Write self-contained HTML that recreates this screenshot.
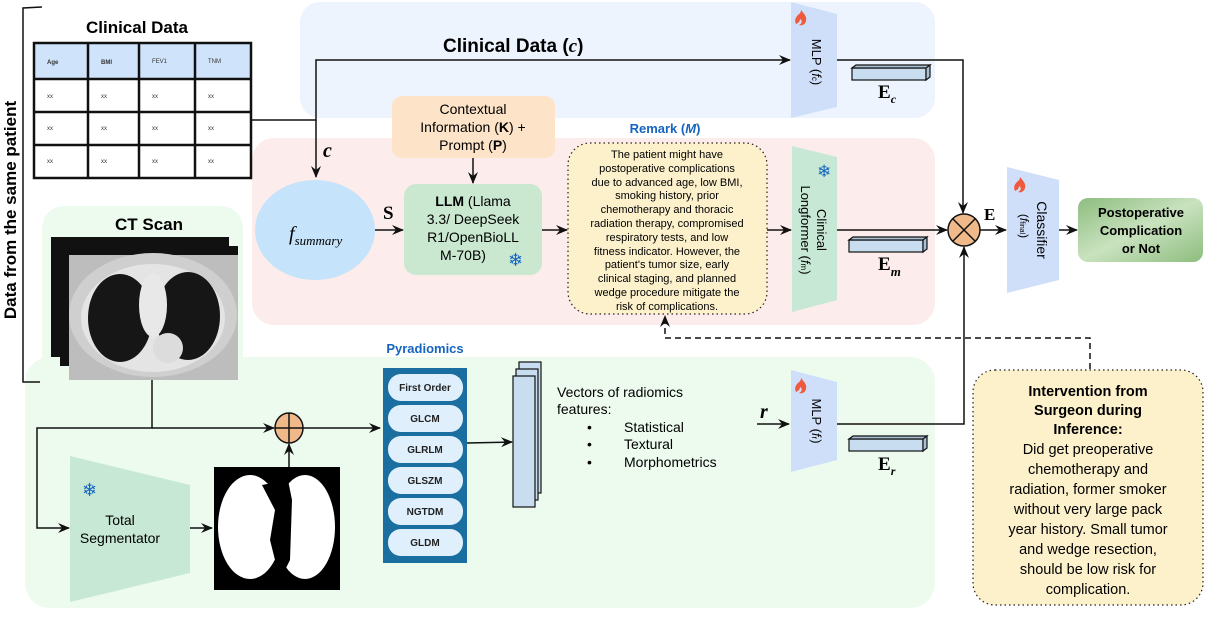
<!DOCTYPE html>
<html><head><meta charset="utf-8"><style>
body{margin:0;width:1207px;height:612px;overflow:hidden;background:#fff;font-family:"Liberation Sans",sans-serif}
</style></head><body>
<svg width="1207" height="612" viewBox="0 0 1207 612" xmlns="http://www.w3.org/2000/svg" font-family="Liberation Sans, sans-serif">
<defs>
<marker id="a" markerWidth="12" markerHeight="10" refX="11" refY="5" orient="auto" markerUnits="userSpaceOnUse"><path d="M0,0 L12,5 L0,10 L4,5 z" fill="#111"/></marker>
<linearGradient id="g" x1="0" y1="0" x2="1" y2="1"><stop offset="0" stop-color="#8dbd7e"/><stop offset="0.5" stop-color="#c9e2bf"/><stop offset="1" stop-color="#8dbd7e"/></linearGradient>
<g id="fire"><path d="M6,0 C9,4 12,6 11,11 C10,15 6,16 4,15 C8,13 7,10 5,9 C5,12 3,13 1,14 C-1,10 1,7 3,5 C4,4 6,3 6,0 z" fill="#ef5a3c"/></g>
<g id="bar"><rect x="0" y="3" width="74" height="12" fill="#c9ddf0" stroke="#111" stroke-width="1.2"/><path d="M0,3 L4,0 L78,0 L74,3 z M74,3 L78,0 L78,12 L74,15 z" fill="#a9c0d6" stroke="#111" stroke-width="1.2"/></g>
</defs>
<!-- regions -->
<rect x="300" y="2" width="635" height="116" rx="20" fill="#edf4fd"/>
<rect x="252" y="138" width="683" height="187" rx="22" fill="#fcecec"/>
<rect x="25" y="357" width="910" height="251" rx="25" fill="#edfbef"/>
<rect x="42" y="206" width="201" height="180" rx="22" fill="#edfbef"/>
<!-- bracket -->
<path d="M42,7 L23,8 L23,382 L40,382" fill="none" stroke="#111" stroke-width="1.5"/>
<text transform="translate(16,210) rotate(-90)" text-anchor="middle" font-size="17" font-weight="bold">Data from the same patient</text>
<!-- clinical table -->
<text x="137" y="33" text-anchor="middle" font-size="17" font-weight="bold">Clinical Data</text>
<rect x="34" y="43" width="217" height="36" fill="#cfe4fb"/>
<g stroke="#111" stroke-width="2.5" fill="none">
<rect x="34" y="43" width="217" height="135"/>
<line x1="34" y1="79" x2="251" y2="79"/><line x1="34" y1="112" x2="251" y2="112"/><line x1="34" y1="145" x2="251" y2="145"/>
<line x1="88" y1="43" x2="88" y2="178"/><line x1="139" y1="43" x2="139" y2="178"/><line x1="195" y1="43" x2="195" y2="178"/>
</g>
<g font-size="6" fill="#333"><text x="47" y="64" font-weight="bold">Age</text><text x="101" y="64" font-weight="bold">BMI</text><text x="152" y="63">FEV1</text><text x="208" y="63">TNM</text>
<text x="47" y="98">xx</text><text x="101" y="98">xx</text><text x="152" y="98">xx</text><text x="208" y="98">xx</text>
<text x="47" y="130">xx</text><text x="101" y="130">xx</text><text x="152" y="130">xx</text><text x="208" y="130">xx</text>
<text x="47" y="163">xx</text><text x="101" y="163">xx</text><text x="152" y="163">xx</text><text x="208" y="163">xx</text></g>
<!-- clinical path -->
<text x="443" y="52" font-size="19" font-weight="bold">Clinical Data (<tspan font-family="Liberation Serif" font-style="italic">c</tspan>)</text>
<path d="M251,120 L316,120 L316,60 L790,60" fill="none" stroke="#111" stroke-width="1.5" marker-end="url(#a)"/>
<path d="M316,120 L316,177" fill="none" stroke="#111" stroke-width="1.5" marker-end="url(#a)"/>
<text x="323" y="157" font-size="20" font-weight="bold" font-style="italic" font-family="Liberation Serif">c</text>
<!-- MLP c -->
<path d="M791,2 L837,14 L837,107 L791,118 z" fill="#cfdffa"/>
<use href="#fire" x="795" y="10"/>
<text transform="translate(812,62) rotate(90)" text-anchor="middle" font-size="13">MLP (<tspan font-style="italic">f</tspan><tspan font-size="8">c</tspan>)</text>
<path d="M837,60 L963,60 L963,213" fill="none" stroke="#111" stroke-width="1.5" marker-end="url(#a)"/>
<use href="#bar" x="852" y="65"/>
<text x="878" y="98" font-size="19" font-weight="bold" font-family="Liberation Serif">E<tspan font-size="12" dy="5" font-style="italic">c</tspan></text>
<!-- prompt -->
<rect x="392" y="96" width="163" height="62" rx="10" fill="#fde3c8"/>
<g font-size="14" text-anchor="middle"><text x="473" y="114">Contextual</text><text x="473" y="132">Information (<tspan font-weight="bold">K</tspan>) +</text><text x="473" y="150">Prompt (<tspan font-weight="bold">P</tspan>)</text></g>
<path d="M473,158 L473,183" stroke="#111" stroke-width="1.5" marker-end="url(#a)"/>
<!-- summary -->
<ellipse cx="315" cy="230" rx="60" ry="50" fill="#c5e3fb"/>
<text x="289" y="240" font-size="20" font-style="italic" font-family="Liberation Serif">f<tspan font-size="13" dy="5">summary</tspan></text>
<text x="383" y="219" font-size="19" font-weight="bold" font-family="Liberation Serif">S</text>
<path d="M375,230 L403,230" stroke="#111" stroke-width="1.5" marker-end="url(#a)"/>
<rect x="404" y="184" width="138" height="91" rx="12" fill="#c9e8cf"/>
<g font-size="14" text-anchor="middle"><text x="473" y="206"><tspan font-weight="bold">LLM</tspan> (Llama</text><text x="473" y="224">3.3/ DeepSeek</text><text x="473" y="242">R1/OpenBioLL</text><text x="463" y="260">M-70B)</text></g>
<text x="508" y="266" font-size="18" fill="#1565c0">❄</text>
<path d="M542,230 L567,230" stroke="#111" stroke-width="1.5" marker-end="url(#a)"/>
<!-- remark -->
<text x="665" y="133" text-anchor="middle" font-size="13" font-weight="bold" fill="#1565c0">Remark (<tspan font-style="italic">M</tspan>)</text>
<rect x="568" y="143" width="199" height="171" rx="22" fill="#fdf1cc" stroke="#222" stroke-width="1.2" stroke-dasharray="1.5,3"/>
<g font-size="11" text-anchor="middle"><text x="667" y="158">The patient might have</text><text x="667" y="172">postoperative complications</text><text x="667" y="186">due to advanced age, low BMI,</text><text x="667" y="199">smoking history, prior</text><text x="667" y="213">chemotherapy and thoracic</text><text x="667" y="227">radiation therapy, compromised</text><text x="667" y="241">respiratory tests, and low</text><text x="667" y="255">fitness indicator. However, the</text><text x="667" y="268">patient's tumor size, early</text><text x="667" y="282">clinical staging, and planned</text><text x="667" y="296">wedge procedure mitigate the</text><text x="667" y="310">risk of complications.</text></g>
<path d="M767,230 L791,230" stroke="#111" stroke-width="1.5" marker-end="url(#a)"/>
<path d="M792,146 L837,157 L837,300 L792,312 z" fill="#c7e8d4"/>
<text x="817" y="177" font-size="17" fill="#1565c0">❄</text>
<text transform="translate(817,230) rotate(90)" text-anchor="middle" font-size="13"><tspan x="0" dy="0">Clinical</tspan><tspan x="0" dy="16">Longformer (<tspan font-style="italic">f</tspan><tspan font-size="8">m</tspan>)</tspan></text>
<path d="M837,230 L947,230" stroke="#111" stroke-width="1.5" marker-end="url(#a)"/>
<use href="#bar" x="849" y="237"/>
<text x="878" y="270" font-size="19" font-weight="bold" font-family="Liberation Serif">E<tspan font-size="13" dy="6" font-style="italic">m</tspan></text>
<!-- fusion -->
<circle cx="964" cy="230" r="16" fill="#f0b98a" stroke="#111" stroke-width="1.5"/>
<path d="M953,219 L975,241 M975,219 L953,241" stroke="#111" stroke-width="1.5"/>
<text x="984" y="220" font-size="17" font-weight="bold" font-family="Liberation Serif">E</text>
<path d="M980,230 L1006,230" stroke="#111" stroke-width="1.5" marker-end="url(#a)"/>
<path d="M1007,167 L1059,180 L1059,280 L1007,293 z" fill="#cfdffa"/>
<use href="#fire" x="1014" y="177"/>
<text transform="translate(1037,230) rotate(90)" text-anchor="middle" font-size="14"><tspan x="0" dy="0">Classifier</tspan><tspan x="-4" dy="17" font-size="12">(<tspan font-style="italic">f</tspan><tspan font-size="7">final</tspan>)</tspan></text>
<path d="M1059,230 L1077,230" stroke="#111" stroke-width="1.5" marker-end="url(#a)"/>
<rect x="1078" y="198" width="125" height="64" rx="10" fill="url(#g)"/>
<g font-size="13" font-weight="bold" text-anchor="middle"><text x="1141" y="217">Postoperative</text><text x="1141" y="235">Complication</text><text x="1141" y="253">or Not</text></g>
<!-- dashed intervention -->
<path d="M1090,369 L1090,338 L665,338 L665,316" fill="none" stroke="#111" stroke-width="1.5" stroke-dasharray="6,4" marker-end="url(#a)"/>
<rect x="973" y="370" width="230" height="235" rx="22" fill="#fdf1cc" stroke="#222" stroke-width="1.2" stroke-dasharray="1.5,3"/>
<g font-size="14.5" text-anchor="middle"><text x="1088" y="396" font-weight="bold">Intervention from</text><text x="1088" y="415" font-weight="bold">Surgeon during</text><text x="1088" y="434" font-weight="bold">Inference:</text>
<text x="1088" y="454">Did get preoperative</text><text x="1088" y="474">chemotherapy and</text><text x="1088" y="494">radiation, former smoker</text><text x="1088" y="514">without very large pack</text><text x="1088" y="534">year history. Small tumor</text><text x="1088" y="554">and wedge resection,</text><text x="1088" y="574">should be low risk for</text><text x="1088" y="594">complication.</text></g>
<!-- CT -->
<text x="149" y="230" text-anchor="middle" font-size="17" font-weight="bold">CT Scan</text>
<g>
<rect x="51" y="237" width="178" height="120" fill="#111"/>
<rect x="60" y="246" width="178" height="120" fill="#111"/>
<rect x="69" y="255" width="169" height="125" fill="#bdbdbd"/>
<ellipse cx="153" cy="315" rx="84" ry="62" fill="#cfcfcf"/>
<ellipse cx="153" cy="318" rx="72" ry="54" fill="#e4e4e4"/>
<ellipse cx="120" cy="318" rx="32" ry="44" fill="#161616"/>
<ellipse cx="188" cy="316" rx="32" ry="44" fill="#161616"/>
<ellipse cx="153" cy="305" rx="14" ry="32" fill="#e8e8e8"/>
<ellipse cx="168" cy="348" rx="15" ry="15" fill="#dcdcdc"/>
</g>
<!-- bottom flow -->
<path d="M152,380 L152,428 L37,428 L37,528 L69,528" fill="none" stroke="#111" stroke-width="1.5" marker-end="url(#a)"/>
<path d="M152,428 L274,428" stroke="#111" stroke-width="1.5" marker-end="url(#a)"/>
<ellipse cx="289" cy="428" rx="14" ry="15" fill="#f0b98a" stroke="#111" stroke-width="1.5"/>
<path d="M275,428 L303,428 M289,413 L289,443" stroke="#111" stroke-width="1.5"/>
<path d="M70,456 L190,485 L190,573 L70,602 z" fill="#c7e8d4"/>
<text x="82" y="496" font-size="18" fill="#1565c0">❄</text>
<g font-size="14" text-anchor="middle"><text x="120" y="525">Total</text><text x="120" y="543">Segmentator</text></g>
<path d="M190,528 L212,528" stroke="#111" stroke-width="1.5" marker-end="url(#a)"/>
<rect x="214" y="467" width="126" height="123" fill="#000"/>
<ellipse cx="250" cy="527" rx="32" ry="52" fill="#fff"/>
<ellipse cx="305" cy="527" rx="30" ry="52" fill="#fff"/>
<path d="M262,485 L275,510 L270,540 L280,580 L290,560 L292,500 L288,480 z" fill="#000"/>
<path d="M289,467 L289,444" stroke="#111" stroke-width="1.5" marker-end="url(#a)"/>
<path d="M303,428 L380,428" stroke="#111" stroke-width="1.5" marker-end="url(#a)"/>
<!-- pyradiomics -->
<text x="425" y="353" text-anchor="middle" font-size="13" font-weight="bold" fill="#1565c0">Pyradiomics</text>
<rect x="383" y="368" width="84" height="195" fill="#1a6fa0"/>
<g fill="#dff0fc"><rect x="388" y="374" width="75" height="27" rx="13"/><rect x="388" y="405" width="75" height="27" rx="13"/><rect x="388" y="436" width="75" height="27" rx="13"/><rect x="388" y="467" width="75" height="27" rx="13"/><rect x="388" y="498" width="75" height="27" rx="13"/><rect x="388" y="529" width="75" height="27" rx="13"/></g>
<g font-size="10" font-weight="bold" text-anchor="middle" fill="#222"><text x="425" y="391">First Order</text><text x="425" y="422">GLCM</text><text x="425" y="453">GLRLM</text><text x="425" y="484">GLSZM</text><text x="425" y="515">NGTDM</text><text x="425" y="546">GLDM</text></g>
<path d="M467,443 L512,442" stroke="#111" stroke-width="1.5" marker-end="url(#a)"/>
<g fill="#c9ddf0" stroke="#111" stroke-width="1.2"><rect x="519" y="362" width="22" height="131"/><rect x="516" y="369" width="22" height="131"/><rect x="513" y="376" width="22" height="131"/></g>
<g font-size="14"><text x="557" y="397">Vectors of radiomics</text><text x="557" y="414">features:</text>
<text x="587" y="432">•</text><text x="624" y="432">Statistical</text><text x="587" y="449">•</text><text x="624" y="449">Textural</text><text x="587" y="467">•</text><text x="624" y="467">Morphometrics</text></g>
<text x="760" y="418" font-size="20" font-weight="bold" font-style="italic" font-family="Liberation Serif">r</text>
<path d="M757,424 L789,424" stroke="#111" stroke-width="1.5" marker-end="url(#a)"/>
<path d="M791,370 L837,382 L837,460 L791,472 z" fill="#cfdffa"/>
<use href="#fire" x="795" y="378"/>
<text transform="translate(812,421) rotate(90)" text-anchor="middle" font-size="13">MLP (<tspan font-style="italic">f</tspan><tspan font-size="8">r</tspan>)</text>
<path d="M837,424 L964,424 L964,247" fill="none" stroke="#111" stroke-width="1.5" marker-end="url(#a)"/>
<use href="#bar" x="849" y="436"/>
<text x="878" y="470" font-size="19" font-weight="bold" font-family="Liberation Serif">E<tspan font-size="12" dy="5" font-style="italic">r</tspan></text>
</svg>
</body></html>
